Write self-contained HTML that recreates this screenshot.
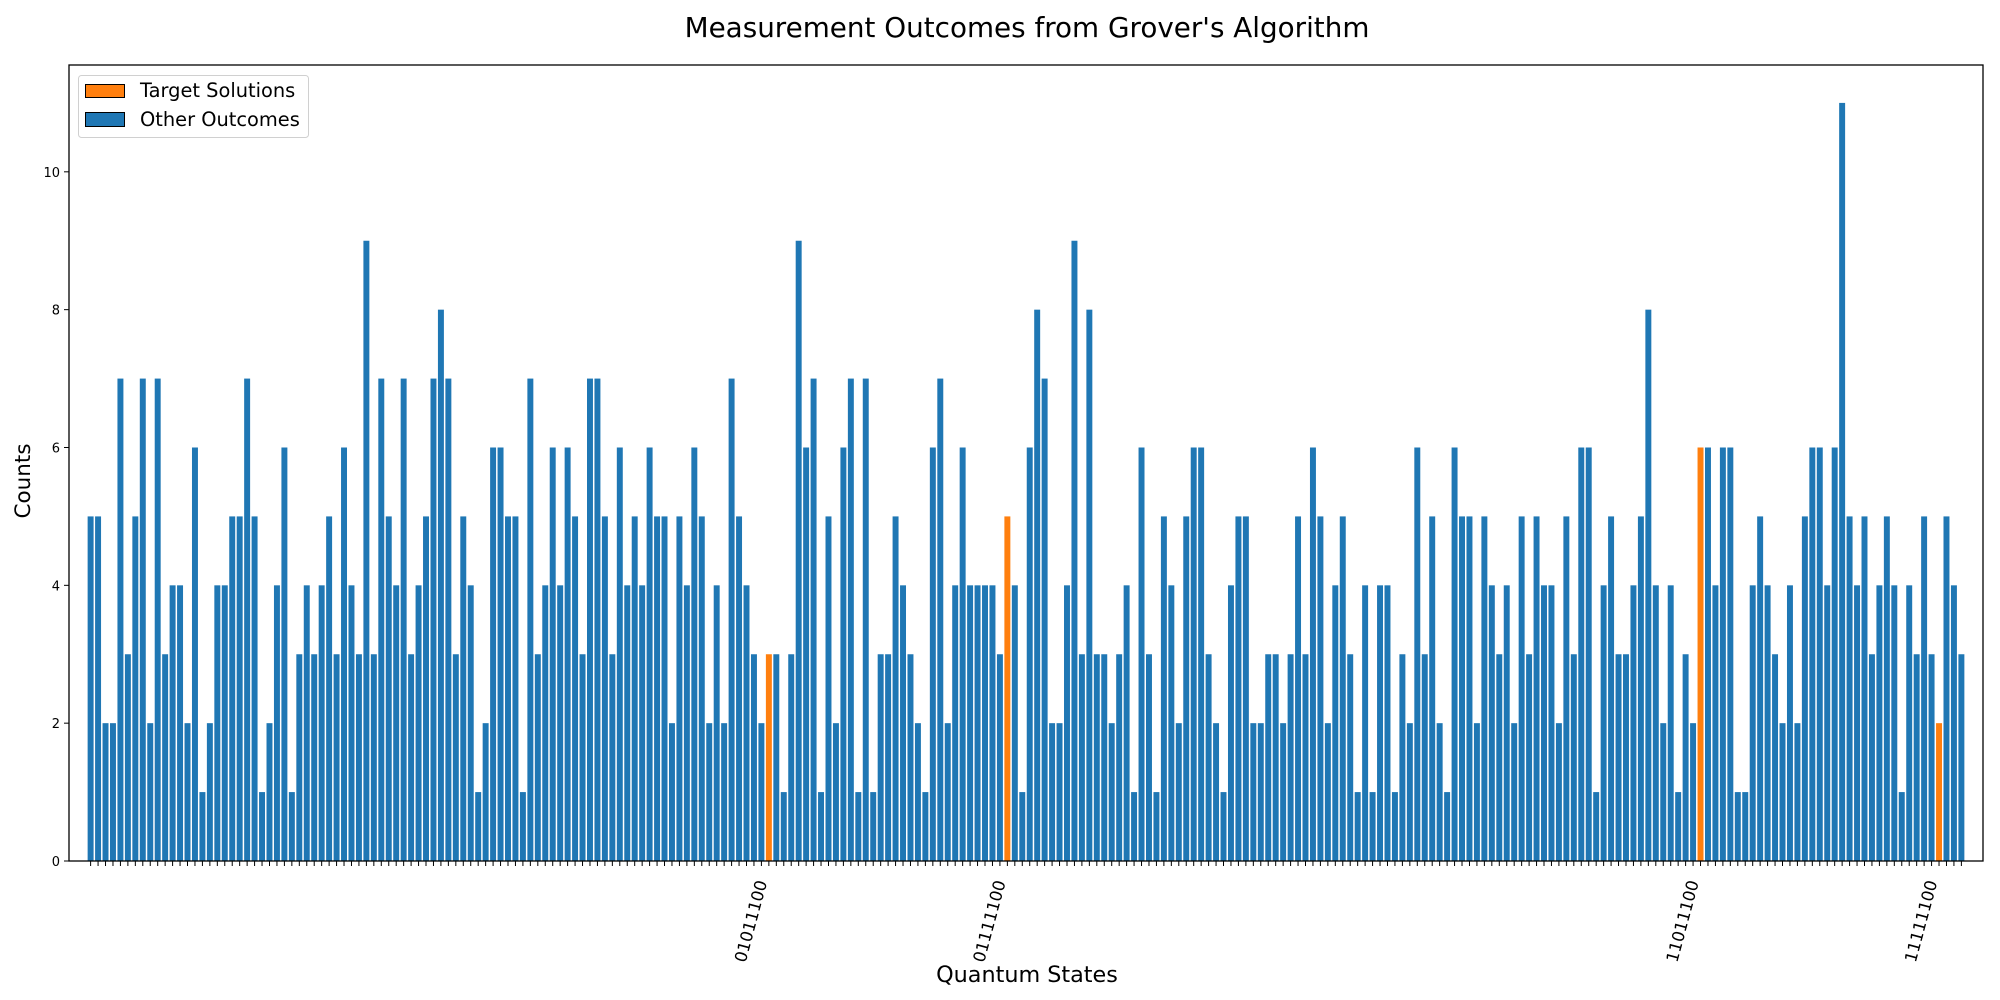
<!DOCTYPE html>
<html>
<head>
<meta charset="utf-8">
<style>
html,body{margin:0;padding:0;background:#fff;}
svg{display:block;font-family:"DejaVu Sans","Liberation Sans",sans-serif;}
</style>
</head>
<body>
<svg id="chart" width="2000" height="1000" viewBox="0 0 2000 1000">
<rect x="0" y="0" width="2000" height="1000" fill="#fff"/>
<text x="1027" y="37" text-anchor="middle" font-size="27.8" fill="#000">Measurement Outcomes from Grover's Algorithm</text>
<g id="bars"></g>
<g id="xticks"></g>
<g id="yticks"></g>
<rect x="69" y="65" width="1914" height="796" fill="none" stroke="#000" stroke-width="1.3"/>
<text x="1027" y="982" text-anchor="middle" font-size="22.3" fill="#000">Quantum States</text>
<text transform="translate(30,481) rotate(-90)" text-anchor="middle" font-size="21.5" fill="#000">Counts</text>
<g>
<rect x="78.5" y="75.5" width="230" height="62" rx="3" fill="#fff" fill-opacity="0.8" stroke="#d0d0d0"/>
<g>
<rect x="85.5" y="84.5" width="39" height="13" fill="#ff7f0e" stroke="#000"/>
<text x="140" y="97" font-size="19.4" fill="#000">Target Solutions</text>
</g>
<g>
<rect x="85.5" y="112.5" width="39" height="14" fill="#1f77b4" stroke="#000"/>
<text x="140" y="126" font-size="19.4" fill="#000">Other Outcomes</text>
</g>
</g>
</svg>
<script>
const counts = [
5,5,2,2,7,3,5,7,2,7,3,4,4,2,6,1,2,4,4,5,5,7,5,1,2,4,6,1,
3,4,3,4,5,3,6,4,3,9,3,7,5,4,7,3,4,5,7,8,7,3,5,4,1,2,6,6,
5,5,1,7,3,4,6,4,6,5,3,7,7,5,3,6,4,5,4,6,5,5,2,5,4,6,5,2,
4,2,7,5,4,3,2,3,3,1,3,9,6,7,1,5,2,6,7,1,7,1,3,3,5,4,3,2,
1,6,7,2,4,6,4,4,4,4,3,5,4,1,6,8,7,2,2,4,9,3,8,3,3,2,3,4,
1,6,3,1,5,4,2,5,6,6,3,2,1,4,5,5,2,2,3,3,2,3,5,3,6,5,2,4,
5,3,1,4,1,4,4,1,3,2,6,3,5,2,1,6,5,5,2,5,4,3,4,2,5,3,5,4,
4,2,5,3,6,6,1,4,5,3,3,4,5,8,4,2,4,1,3,2,6,6,4,6,6,1,1,4,
5,4,3,2,4,2,5,6,6,4,6,11,5,4,5,3,4,5,4,1,4,3,5,3,2,5,4,3
];
const missingStates = [40, 150, 170, 190];
const targetStates = ["01011100","01111100","11011100","11111100"];
const yTicks = [0,2,4,6,8,10];

const categories = [];
for (let s = 0; s < 256 && categories.length < counts.length; s++) {
  if (missingStates.indexOf(s) >= 0) continue;
  categories.push(s.toString(2).padStart(8, "0"));
}

const NS = "http://www.w3.org/2000/svg";
const X0 = 69, X1 = 1983, Y0 = 861, Y1 = 65;
const xMin = -2.9, xMax = counts.length - 1 + 2.9;
const yMax = Math.max(...counts) * 1.05;
function xScale(i){ return X0 + (i - xMin) / (xMax - xMin) * (X1 - X0); }
function yScale(v){ return Y0 - v / yMax * (Y0 - Y1); }
const unit = (X1 - X0) / (xMax - xMin);

const gb = document.getElementById("bars");
const gx = document.getElementById("xticks");
const gy = document.getElementById("yticks");

counts.forEach((v, i) => {
  const isT = targetStates.indexOf(categories[i]) >= 0;
  const r = document.createElementNS(NS, "rect");
  const w = unit * 0.8;
  r.setAttribute("x", xScale(i) - w / 2);
  r.setAttribute("y", yScale(v));
  r.setAttribute("width", w);
  r.setAttribute("height", Y0 - yScale(v));
  r.setAttribute("fill", isT ? "#ff7f0e" : "#1f77b4");
  
  
  gb.appendChild(r);

  const t = document.createElementNS(NS, "line");
  t.setAttribute("x1", xScale(i)); t.setAttribute("x2", xScale(i));
  t.setAttribute("y1", Y0); t.setAttribute("y2", Y0 + 5);
  t.setAttribute("stroke", "#000"); t.setAttribute("stroke-width", "1");
  
  
  gx.appendChild(t);

  if (isT) {
    const lx = xScale(i) - 6, ly = Y0 + 20;
    const lab = document.createElementNS(NS, "text");
    lab.setAttribute("transform", "translate(" + lx + "," + ly + ") rotate(-75)");
    lab.setAttribute("text-anchor", "end");
    lab.setAttribute("dominant-baseline", "middle");
    lab.setAttribute("font-size", "16.5");
    lab.setAttribute("fill", "#000");
    lab.textContent = categories[i];
    
    
    gx.appendChild(lab);
  }
});

yTicks.forEach(v => {
  const y = yScale(v);
  const t = document.createElementNS(NS, "line");
  t.setAttribute("x1", X0 - 5); t.setAttribute("x2", X0);
  t.setAttribute("y1", y); t.setAttribute("y2", y);
  t.setAttribute("stroke", "#000");
  
  
  gy.appendChild(t);
  const lab = document.createElementNS(NS, "text");
  lab.setAttribute("x", X0 - 9);
  lab.setAttribute("y", y + 5);
  lab.setAttribute("text-anchor", "end");
  lab.setAttribute("font-size", "13");
  lab.setAttribute("fill", "#000");
  lab.textContent = v;
  
  
  gy.appendChild(lab);
});
</script>
</body>
</html>
